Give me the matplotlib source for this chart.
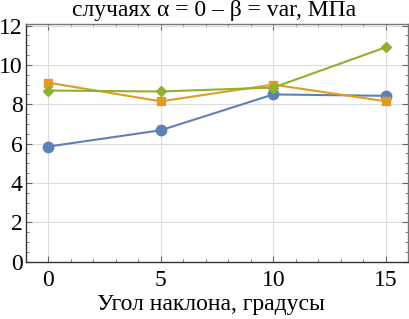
import matplotlib
matplotlib.use("Agg")
import matplotlib.pyplot as plt
from matplotlib.ticker import MultipleLocator

angles = [0, 5, 10, 15]
series_blue = [5.85, 6.68, 8.5, 8.43]
series_orange = [9.1, 8.15, 9.0, 8.15]
series_green = [8.7, 8.65, 8.85, 10.9]
title_text = "случаях α = 0 – β = var, МПа"
xlabel_text = "Угол наклона, градусы"

plt.rcParams['font.family'] = ['Liberation Serif', 'DejaVu Serif']

fig = plt.figure(figsize=(4.09, 3.19), dpi=100)
ax = fig.add_axes([0.0636, 0.1796, 0.934, 0.7464])

ax.plot(angles, series_blue, color='#5E81B5', marker='o', markersize=7.5, lw=1.5, zorder=3)
ax.plot(angles, series_orange, color='#E19C24', marker='s', markersize=6, lw=1.5, zorder=3)
ax.plot(angles, series_green, color='#8FB032', marker='D', markersize=5.5, lw=1.5, zorder=4)

ax.set_xlim(-0.98, 15.98)
ax.set_ylim(0, 12.1)
ax.xaxis.set_major_locator(MultipleLocator(5))
ax.xaxis.set_minor_locator(MultipleLocator(1))
ax.yaxis.set_major_locator(MultipleLocator(2))
ax.yaxis.set_minor_locator(MultipleLocator(0.5))
ax.grid(True, which='major', color='#dddddd', lw=0.8, zorder=0)
ax.tick_params(which='both', direction='in', top=True, right=True, colors='#666666',
               labelcolor='black', labelsize=17)
ax.tick_params(which='major', length=4, width=0.8)
ax.tick_params(which='minor', length=2, width=0.6)
ax.tick_params(axis='y', pad=2.5)
ax.tick_params(axis='x', pad=6)
ax.spines['left'].set_color('#333333')
ax.spines['bottom'].set_color('#333333')
ax.spines['top'].set_color('#777777')
ax.spines['right'].set_color('#777777')
for s in ax.spines.values():
    s.set_linewidth(1.0)

fig.text(211 / 409, 1 - 310 / 319, xlabel_text, fontsize=17, ha='center', va='baseline')
fig.text(214 / 409, 1 - 16 / 319, title_text, fontsize=17, ha='center', va='baseline')

fig.savefig('out.png', dpi=100)
